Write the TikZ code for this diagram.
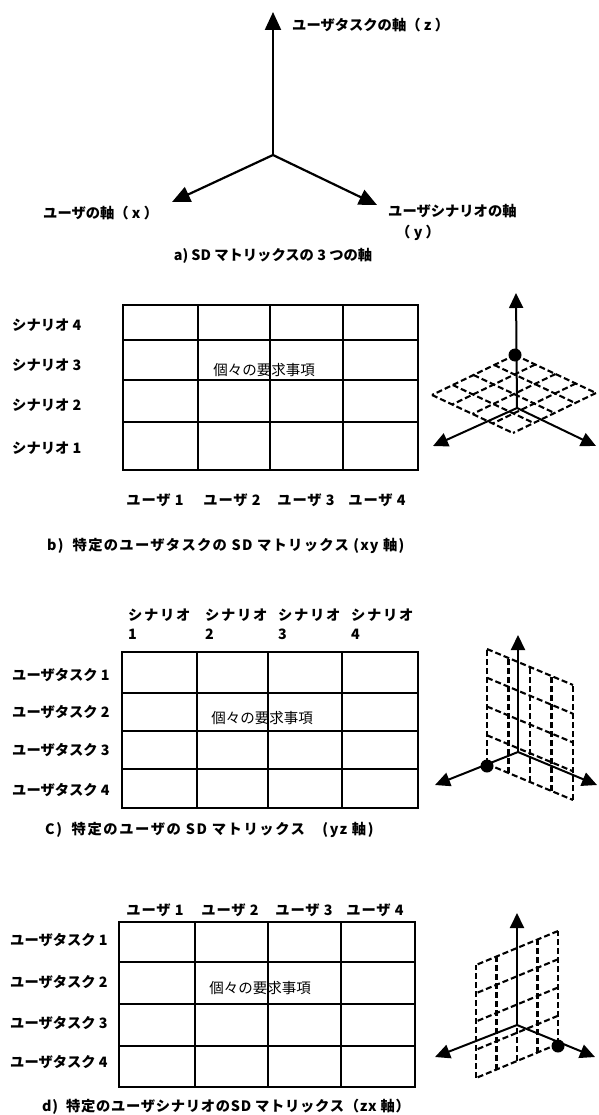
\documentclass[tikz,border=0pt]{standalone}
\usepackage{fontspec}
\newfontfamily\jp{Noto Sans CJK JP}
\usetikzlibrary{arrows.meta}
\tikzset{
 lbl/.style={font=\jp\bfseries\fontsize{14.3}{16}\selectfont\addfontfeature{LetterSpace=#1}, inner sep=0pt},
 lbl/.default=0,
 captxt/.style={font=\jp\bfseries\fontsize{14.3}{16}\selectfont\addfontfeature{LetterSpace=#1}, inner sep=0pt, anchor=west},
 captxt/.default=0,
 ctr/.style={font=\jp\fontsize{14.5}{16}\selectfont, inner sep=0pt},
 gridline/.style={line width=2.1pt},
 bigaxis/.style={line width=2.2pt, -{Triangle[length=18pt,width=16pt]}},
 smallaxis/.style={line width=2pt, -{Triangle[length=15pt,width=14pt]}},
 dgrid/.style={line width=2.1pt, dash pattern=on 6pt off 3pt},
 ball/.style={fill=black},
}
\begin{document}
\begin{tikzpicture}[x=1pt,y=-1pt]
\useasboundingbox (0,0) rectangle (598,1115);
\fill[white] (0,0) rectangle (598,1115);

% ---------- a) three axes
\coordinate (O) at (273,155);
\coordinate (Zt) at (273,12);
\coordinate (Xt) at (172,202);
\coordinate (Yt) at (377,205);
\draw[bigaxis] (O) -- (Zt);
\draw[bigaxis] (O) -- (Xt);
\draw[bigaxis] (O) -- (Yt);
\node[lbl,anchor=west] (zl) at (292,25) {ユーザタスクの軸（ z ）};
\node[lbl,anchor=west] (xl) at (43,213) {ユーザの軸（ x ）};
\node[lbl,anchor=west] (yl) at (388,211) {ユーザシナリオの軸};
\node[lbl,anchor=west] (yl2) at (396,233) {（ y ）};
\node[captxt,anchor=center] (capa) at (273,256) {a) SD マトリックスの 3 つの軸};

% ---------- b) grid xy
\draw[gridline] (123,305) rectangle (418,470);
\foreach \x in {198,270,343} \draw[gridline] (\x,305) -- (\x,470);
\foreach \y in {340,380,422} \draw[gridline] (123,\y) -- (418,\y);
\node[lbl,anchor=west] (bs4) at (12,325) {シナリオ 4};
\node[lbl,anchor=west] (bs3) at (12,365) {シナリオ 3};
\node[lbl,anchor=west] (bs2) at (12,405) {シナリオ 2};
\node[lbl,anchor=west] (bs1) at (12,448) {シナリオ 1};
\node[lbl=6] (bu1) at (155,500) {ユーザ 1};
\node[lbl=6] (bu2) at (232,500) {ユーザ 2};
\node[lbl=6] (bu3) at (306,500) {ユーザ 3};
\node[lbl=6] (bu4) at (377,500) {ユーザ 4};
\node[ctr] (bc) at (264,370) {個々の要求事項};
\node[captxt=9] (capb) at (47,546) {b)\ \ 特定のユーザタスクの SD マトリックス (xy 軸)};

% icon b
\foreach \i in {0,...,4} {
  \draw[dgrid] ({515+\i*81/4},{355+\i*38/4}) -- ++(-83,40);
  \draw[dgrid] ({515-\i*83/4},{355+\i*40/4}) -- ++(81,38);
}
\coordinate (bO) at (517,408);
\draw[smallaxis] (bO) -- (516,293) coordinate (bZ);
\draw[smallaxis] (bO) -- (433,446) coordinate (bX);
\draw[smallaxis] (bO) -- (596,446) coordinate (bY);
\fill[ball] (515,355) circle (6.5);

% ---------- c) grid yz
\draw[gridline] (122,652) rectangle (418,808);
\foreach \x in {197,268,342} \draw[gridline] (\x,652) -- (\x,808);
\foreach \y in {693,731,769} \draw[gridline] (122,\y) -- (418,\y);
\node[lbl=12,anchor=west] (cs1) at (128,615) {シナリオ};
\node[lbl=12,anchor=west] (cs2) at (205,615) {シナリオ};
\node[lbl=12,anchor=west] (cs3) at (278,615) {シナリオ};
\node[lbl=12,anchor=west] (cs4) at (351,615) {シナリオ};
\node[lbl,anchor=west] (cn1) at (128,634) {1};
\node[lbl,anchor=west] (cn2) at (205,634) {2};
\node[lbl,anchor=west] (cn3) at (278,634) {3};
\node[lbl,anchor=west] (cn4) at (351,634) {4};
\node[lbl,anchor=west] (ct1) at (12,675) {ユーザタスク 1};
\node[lbl,anchor=west] (ct2) at (12,712) {ユーザタスク 2};
\node[lbl,anchor=west] (ct3) at (12,750) {ユーザタスク 3};
\node[lbl,anchor=west] (ct4) at (12,790) {ユーザタスク 4};
\node[ctr] (cc) at (262,718) {個々の要求事項};
\node[captxt=11] (capc) at (45,830) {C)\ \ 特定のユーザの SD マトリックス　(yz 軸)};

% icon c
\foreach \i in {0,...,4} {
  \draw[dgrid] ({487+\i*86/4},{764+\i*36/4}) -- ++(0,-115);
  \draw[dgrid] (487,{764-\i*115/4}) -- ++(86,36);
}
\coordinate (cO) at (518,752);
\draw[smallaxis] (cO) -- (518,635) coordinate (cZ);
\draw[smallaxis] (cO) -- (435,785) coordinate (cX);
\draw[smallaxis] (cO) -- (597,785) coordinate (cY);
\fill[ball] (487,766) circle (6.5);

% ---------- d) grid zx
\draw[gridline] (119,922) rectangle (415,1087);
\foreach \x in {195,268,341} \draw[gridline] (\x,922) -- (\x,1087);
\foreach \y in {962,1004,1046} \draw[gridline] (119,\y) -- (415,\y);
\node[lbl=6] (du1) at (155,910) {ユーザ 1};
\node[lbl=6] (du2) at (230,910) {ユーザ 2};
\node[lbl=6] (du3) at (304,910) {ユーザ 3};
\node[lbl=6] (du4) at (375,910) {ユーザ 4};
\node[lbl,anchor=west] (dt1) at (10,940) {ユーザタスク 1};
\node[lbl,anchor=west] (dt2) at (10,982) {ユーザタスク 2};
\node[lbl,anchor=west] (dt3) at (10,1023) {ユーザタスク 3};
\node[lbl,anchor=west] (dt4) at (10,1062) {ユーザタスク 4};
\node[ctr] (dc) at (260,988) {個々の要求事項};
\node[captxt=5] (capd) at (42,1107) {d)\ \ 特定のユーザシナリオのSD マトリックス（zx 軸）};

% icon d
\foreach \i in {0,...,4} {
  \draw[dgrid] ({558-\i*82/4},{1044+\i*34/4}) -- ++(0,-113);
  \draw[dgrid] (558,{1044-\i*113/4}) -- ++(-82,34);
}
\coordinate (dO) at (517,1025);
\draw[smallaxis] (dO) -- (517,913) coordinate (dZ);
\draw[smallaxis] (dO) -- (435,1057) coordinate (dX);
\draw[smallaxis] (dO) -- (595,1057) coordinate (dY);
\fill[ball] (558,1046) circle (6.5);
\end{tikzpicture}
\end{document}
